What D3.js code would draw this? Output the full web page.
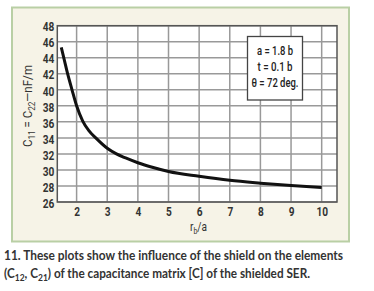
<!DOCTYPE html>
<html><head><meta charset="utf-8">
<script src="https://cdn.jsdelivr.net/npm/d3@7"></script>
<style>
body{margin:0;background:#fff;}
text{font-family:Roboto,"DejaVu Sans",sans-serif;}
</style></head>
<body><svg id="c" width="374" height="291"></svg>
<script>
const xValues = [1.5, 1.6, 1.7, 1.85, 2.0, 2.2, 2.4, 2.65, 3.0, 3.3, 3.6, 4.0, 4.5, 5.0, 6.0, 7.0, 8.0, 9.0, 10.0];
const yValues = [45.3, 43.7, 42.1, 40.0, 38.0, 36.1, 34.9, 33.9, 32.7, 32.0, 31.5, 30.9, 30.3, 29.8, 29.2, 28.7, 28.35, 28.05, 27.8];
const xTicks = [2, 3, 4, 5, 6, 7, 8, 9, 10];
const yTicks = [26, 28, 30, 32, 34, 36, 38, 40, 42, 44, 46, 48];
const legendLines = ["a = 1.8 b", "t = 0.1 b", "θ = 72 deg."];
const legendWidths = [36, 35, 47];

const FONT = "Roboto, 'DejaVu Sans', sans-serif";
const svg = d3.select("#c");
svg.append("rect").attr("x",12).attr("y",7.5).attr("width",337).attr("height",234)
  .attr("fill","#f6f3e7").attr("stroke","#b9cfa5").attr("stroke-width",2);

const x = d3.scaleLinear().domain([1.37,10.5]).range([57.3,337]);
const y = d3.scaleLinear().domain([26,48]).range([202,25.7]);

const g = svg.append("g");
g.append("rect").attr("x",57.3).attr("y",25.7).attr("width",337-57.3).attr("height",202-25.7).attr("fill","#fff");
g.selectAll(".gx").data(xTicks).join("line")
  .attr("x1",d=>x(d)).attr("x2",d=>x(d)).attr("y1",25.7).attr("y2",202)
  .attr("stroke","#999").attr("stroke-width",1.5);
g.selectAll(".gy").data(yTicks).join("line")
  .attr("x1",57.3).attr("x2",337).attr("y1",d=>y(d)).attr("y2",d=>y(d))
  .attr("stroke","#999").attr("stroke-width",1.5);
g.append("rect").attr("x",57.3).attr("y",25.7).attr("width",337-57.3).attr("height",202-25.7)
  .attr("fill","none").attr("stroke","#555").attr("stroke-width",1.5);

const ax = svg.append("g").attr("transform","translate(0,202)")
  .call(d3.axisBottom(x).tickValues(xTicks).tickSize(0).tickPadding(5).tickFormat(d3.format("d")));
ax.select(".domain").remove();
const ay = svg.append("g").attr("transform","translate(57.3,0)")
  .call(d3.axisLeft(y).tickValues(yTicks).tickSize(0).tickPadding(3).tickFormat(d3.format("d")));
ay.select(".domain").remove();
svg.selectAll(".tick text").attr("font-family",FONT)
  .attr("font-size",13).attr("font-weight","bold").attr("fill","#333")
  .attr("textLength",d=>String(d).length*5.8).attr("lengthAdjust","spacingAndGlyphs");
ay.selectAll(".tick text").attr("dy","0.4em");

const line = d3.line().x((d,i)=>x(xValues[i])).y(d=>y(d)).curve(d3.curveMonotoneX);
svg.append("path").datum(yValues).attr("d",line).attr("fill","none")
  .attr("stroke","#111").attr("stroke-width",3);

svg.append("rect").attr("x",247.5).attr("y",36.5).attr("width",55).attr("height",63.5)
  .attr("fill","#fff").attr("stroke","#444").attr("stroke-width",1.3);
svg.selectAll(".lg").data(legendLines).join("text")
  .attr("x",275).attr("y",(d,i)=>54.5+i*16).attr("text-anchor","middle")
  .attr("font-size",13).attr("font-weight",500).attr("fill","#222")
  .attr("textLength",(d,i)=>legendWidths[i]).attr("lengthAdjust","spacingAndGlyphs")
  .text(d=>d);

const xl = svg.append("text").attr("x",190).attr("y",231).attr("font-size",13).attr("fill","#333")
  .attr("textLength",17).attr("lengthAdjust","spacingAndGlyphs");
xl.append("tspan").text("r");
xl.append("tspan").attr("font-size",9).attr("dy",3).text("b");
xl.append("tspan").attr("dy",-3).text("/a");

const yl = svg.append("text").attr("transform","translate(32,106) rotate(-90)")
  .attr("text-anchor","middle").attr("font-size",13.5).attr("fill","#333")
  .attr("textLength",82).attr("lengthAdjust","spacingAndGlyphs");
yl.append("tspan").text("C");
yl.append("tspan").attr("font-size",9.5).attr("dy",3).text("11");
yl.append("tspan").attr("dy",-3).text(" = C");
yl.append("tspan").attr("font-size",9.5).attr("dy",3).text("22");
yl.append("tspan").attr("dy",-3).text("—nF/m");

svg.append("text").attr("x",4).attr("y",260).attr("font-size",12.5).attr("font-weight","bold")
  .attr("fill","#333").style("font-family","Lato, 'Open Sans', sans-serif")
  .attr("textLength",339).attr("lengthAdjust","spacingAndGlyphs")
  .text("11. These plots show the influence of the shield on the elements");
const c2 = svg.append("text").attr("x",4).attr("y",278).attr("font-size",12.5).attr("font-weight","bold")
  .attr("fill","#333").style("font-family","Lato, 'Open Sans', sans-serif")
  .attr("textLength",306).attr("lengthAdjust","spacingAndGlyphs");
c2.append("tspan").text("(C");
c2.append("tspan").attr("font-size",9).attr("dy",3).text("12");
c2.append("tspan").attr("dy",-3).text(", C");
c2.append("tspan").attr("font-size",9).attr("dy",3).text("21");
c2.append("tspan").attr("dy",-3).text(") of the capacitance matrix [C] of the shielded SER.");
</script></body></html>
